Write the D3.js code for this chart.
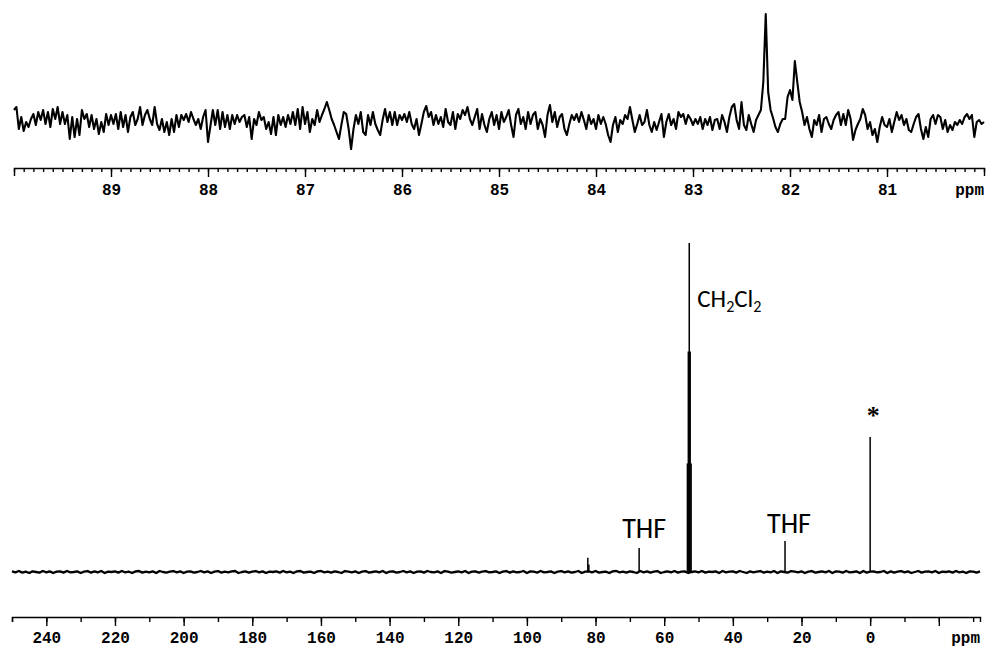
<!DOCTYPE html>
<html>
<head>
<meta charset="utf-8">
<script src="https://cdn.jsdelivr.net/npm/d3@7"></script>
<style>
  html, body { margin: 0; padding: 0; background: #fff; }
  svg { display: block; }
  .axis .tick text { font-family: "Liberation Mono", "Courier New", monospace; font-weight: bold; font-size: 16px; fill: #000; }
  .axis path, .axis line { stroke: #000; stroke-width: 1.4; }
  .unit { font-family: "Liberation Mono", "Courier New", monospace; font-weight: bold; font-size: 16px; fill: #000; }
  .lbl { font-family: Carlito, Calibri, Lato, sans-serif; fill: #000; }
</style>
</head>
<body>
<svg id="chart" width="989" height="650"></svg>
<script>
// ---- expanded region, 90 to 80 ppm (regular digital resolution) ----
const zoomStart = 90;
const zoomStep = 0.025;
const zoomIntensity = [
  12, 15, -7, 5, -9, 0, -5, 3, 8, -3,
  10, 2, 12, -2, 10, -5, 13, 3, 15, -2,
  10, -2, 7, -17, 5, -15, 3, -13, 12, 3,
  8, -5, 7, -7, 3, -12, 0, -10, 8, -3,
  7, -2, 8, -7, 10, -5, 7, -10, 5, 10,
  -3, 3, 15, -3, 7, 12, 3, -3, 15, -2,
  -8, 3, -10, 0, -13, 3, -10, 7, -5, 7,
  2, 8, 0, 10, 3, -3, 3, -7, 5, 12,
  -20, -4,
  12, -3, 12, -7, 10, -5, 7, -7, 7, -2,
  7, 0, 5, 7, -5, 5, -17, 3, -3, 10,
  2, 5, -7, 0, -12, 5, -13, 7, -3, 5,
  -5, 7, -2, 10, -3, 13, -7, 15, -2, 10,
  -10, 3, -3, 12, 0, 7, 13, 20, 12, 3,
  -3, -10, -17, -3, 10, 8, -7, -27, -7, 7,
  -2, 10, -10, -13, 7, -3, 10, -2, -8, -13,
  2, 13, 0, 10, -3, 10, -3, 7,
  2, 8, 0, 10, -2, -7, 3, -13, -2, 10,
  16, 5, 10, -3, 7, -2, 5, -5, 13, 0,
  -3, 10, -7, 8, 3, 12, 7, 15, 3, -3,
  5, 13, -7, 8, -3, -10, 3, 10, -3, 7,
  -7, 10, 0, 5, 12, -3, -15, 7, 13, -2,
  5, -7, 10, -2, 7, 10, -7, 3, -3, -15,
  7, 17, 0, 10, -5, 5, 8, -7, -13, -2,
  7, 2, 8, 0, 10, 2, -7, 7, -2, 3,
  -7, 7, -2, 5,
  -2, -13, -20, -3, 5, -10, 2, -2, 7, 3,
  15, 2, -10, -2, 7, -3, 0, 12, -3, -10,
  0, -8, 0, 8, -15, 0, 8, -3, 3, -7,
  10, 5, 8, -2, 7, 3, -3, 3, -2, 5,
  -7, 3, -3, 5, -8, 2, 3, -7, 7, 0,
  -10, 5, 15, 18, 2, -7, 20, -3, -8, 7,
  -2, -10, 2, 7,
  12, 40, 108, 30, 12, 4, -5, -10, -2, 3,
  3, 25, 32, 22, 61, 40, 20, 10,
  -3, 5, -7, -15, 2, -3, 7, -10, 3, 5,
  -2, -7, 2, 7, 10, -3, 8, -3, 12, 3,
  -18, -8, -2, 3, 13, 7, -7, 0, -13,
  -7, -20, -5, 5, -3, -5, 3, -10, 0, 10, 2,
  7, -3, 3, -8, -10, -2, 5, 8, -7,
  -17, -5, -15, 3, 7, -2, 7, 5, -7, 2, -10, -3, -8, 0, -3, 2, -2, 5, 8, 3, 7,
  -15, 0, 2, -2, 0
];
const zoomTicks = [89, 88, 87, 86, 85, 84, 83, 82, 81];

// ---- full spectrum, 250 to -32 ppm ----
const fullStart = 250;
const fullStep = 1;
const fullBaseline = [
  0.2, -0.1, 0.3, -0.2, 0.1, -0.3, 0.2, 0.0, -0.2, 0.3, -0.1, 0.2, -0.3, 0.1, 0.2, -0.2, 0.3, -0.1, 0.0, 0.2,
  -0.3, 0.1, 0.3, -0.2, 0.2, -0.1, 0.3, -0.3, 0.1, 0.0, 0.2, -0.2, 0.3, -0.1, 0.1, -0.3, 0.2, 0.3, -0.2, 0.1,
  -0.1, 0.2, -0.3, 0.3, 0.0, -0.2, 0.1, 0.3, -0.1, 0.2, -0.3, 0.1, 0.2, -0.2, 0.0, 0.3, -0.1, 0.2, -0.3, 0.1,
  0.3, -0.2, 0.1, -0.1, 0.2, 0.3, -0.3, 0.0, 0.2, -0.2, 0.1, 0.3, -0.1, 0.2, -0.3, 0.1, 0.0, 0.2, -0.2, 0.3,
  -0.1, 0.1, -0.3, 0.2, 0.3, -0.2, 0.0, 0.1, -0.3, 0.2, 0.3, -0.1, 0.1, -0.2, 0.2, 0.0, -0.3, 0.3, 0.1, -0.1,
  0.2, -0.3, 0.1, 0.3, -0.2, 0.0, 0.2, -0.1, 0.3, -0.3, 0.1, 0.2, -0.2, 0.0, 0.3, -0.1, 0.2, -0.3, 0.1, 0.2,
  -0.2, 0.3, 0.0, -0.1, 0.2, -0.3, 0.3, 0.1, -0.2, 0.0, 0.2, -0.1, 0.3, -0.3, 0.1, 0.2, -0.2, 0.1, 0.3, -0.1,
  0.0, 0.2, -0.3, 0.1, 0.3, -0.2, 0.2, -0.1, 0.0, 0.3, -0.3, 0.2, 0.1, -0.2, 0.3, -0.1, 0.0, 0.2, -0.3, 0.1,
  0.3, -0.1, 0.2, -0.2, 0.0, 0.3, -0.3, 0.1, 0.2, -0.1, 0.3, -0.2, 0.0, 0.1, -0.3, 0.2, 0.3, -0.1, 0.1, -0.2,
  0.2, 0.0, -0.3, 0.3, -0.1, 0.2, -0.2, 0.1, 0.3, -0.3, 0.0, 0.2, -0.1, 0.3, -0.2, 0.1, 0.2, -0.3, 0.0, 0.2,
  -0.1, 0.3, -0.2, 0.1, 0.0, 0.2, -0.3, 0.3, -0.1, 0.1, 0.2, -0.2, 0.3, 0.0, -0.3, 0.2, -0.1, 0.1, 0.3, -0.2,
  0.1, -0.1, 0.3, -0.3, 0.2, 0.0, -0.2, 0.3, 0.1, -0.1, 0.2, -0.3, 0.1, 0.3, -0.2, 0.0, 0.2, -0.1, 0.3, -0.3,
  0.2, 0.1, -0.2, 0.3, -0.1, 0.0, 0.2, -0.3, 0.3, -0.2, 0.1, 0.2, -0.1, 0.0, 0.3, -0.3, 0.2, -0.2, 0.1, 0.3,
  -0.1, 0.2, -0.3, 0.0, 0.3, -0.2, 0.1, 0.2, -0.1, 0.3, -0.3, 0.1, 0.0, 0.2, -0.2, 0.3, -0.1, 0.1, -0.3, 0.2,
  0.1, -0.2, 0.2
];
// resolved lines: product doublet, THF, CD2Cl2 quintet, THF, reference
const linePpm    = [82.25, 81.95, 67.3, 53.24, 52.97, 52.7, 52.43, 52.16, 24.8, 0];
const lineHeight = [4.3,   2.3,   7.3,  33,    67,    100,  67,    33,    9.4,  41];
const fullTicks = [240, 220, 200, 180, 160, 140, 120, 100, 80, 60, 40, 20, 0, -20];
const fullTickLabels = ["240", "220", "200", "180", "160", "140", "120", "100", "80", "60", "40", "20", "0", ""];

const svg = d3.select("#chart");

// ===== expanded panel =====
const xTop = d3.scaleLinear().domain([90, 80]).range([14, 984]);
const yTop = d3.scaleLinear().domain([0, 108]).range([122, 14]);

const topPts = zoomIntensity.map((v, i) => [zoomStart - i * zoomStep, v]);
svg.append("path")
  .datum(topPts)
  .attr("fill", "none")
  .attr("stroke", "#000")
  .attr("stroke-width", 2.1)
  .attr("stroke-linejoin", "round")
  .attr("d", d3.line().x(d => xTop(d[0])).y(d => yTop(d[1])));

const topAxisY = 168;
svg.append("g").attr("class", "axis")
  .attr("transform", `translate(0,${topAxisY})`)
  .call(d3.axisBottom(xTop).ticks(100).tickSize(4).tickSizeOuter(8).tickFormat(""));
const topMajor = svg.append("g").attr("class", "axis")
  .attr("transform", `translate(0,${topAxisY})`)
  .call(d3.axisBottom(xTop).tickValues(zoomTicks).tickSize(9).tickPadding(7).tickFormat(d3.format("d")));
topMajor.select(".domain").remove();
svg.append("text").attr("class", "unit")
  .attr("x", xTop(80)).attr("y", 195).attr("text-anchor", "end").text("ppm");

// ===== full spectrum panel =====
const xBot = d3.scaleLinear().domain([250, -32]).range([12, 980]);
const yBot = d3.scaleLinear().domain([0, 100]).range([572, 243]);

const basePts = fullBaseline.map((v, i) => [fullStart - i * fullStep, v]);
svg.append("path")
  .datum(basePts)
  .attr("fill", "none")
  .attr("stroke", "#000")
  .attr("stroke-width", 2.3)
  .attr("stroke-linejoin", "round")
  .attr("d", d3.line().x(d => xBot(d[0])).y(d => yBot(d[1])));

svg.append("g").selectAll("line")
  .data(linePpm.map((p, i) => ({ p, h: lineHeight[i] })))
  .join("line")
  .attr("x1", d => xBot(d.p)).attr("x2", d => xBot(d.p))
  .attr("y1", yBot(0)).attr("y2", d => yBot(d.h))
  .attr("stroke", "#000")
  .attr("stroke-width", 1.5);

const botAxisY = 617;
svg.append("g").attr("class", "axis")
  .attr("transform", `translate(0,${botAxisY})`)
  .call(d3.axisBottom(xBot).tickValues(d3.range(250, -32, -10)).tickSize(5).tickSizeOuter(5).tickFormat(""));
const botMajor = svg.append("g").attr("class", "axis")
  .attr("transform", `translate(0,${botAxisY})`)
  .call(d3.axisBottom(xBot).tickValues(fullTicks).tickSize(9).tickPadding(6)
    .tickFormat((d, i) => fullTickLabels[i]));
botMajor.select(".domain").remove();
svg.append("text").attr("class", "unit")
  .attr("x", xBot(-32)).attr("y", 643).attr("text-anchor", "end").text("ppm");

// ===== peak annotations =====
svg.append("text").attr("class", "lbl")
  .attr("x", xBot(67.3) + 5).attr("y", yBot(7.3) - 10)
  .attr("text-anchor", "middle").attr("font-size", 28).text("THF");
svg.append("text").attr("class", "lbl")
  .attr("x", xBot(24.8) + 4).attr("y", yBot(9.4) - 8)
  .attr("text-anchor", "middle").attr("font-size", 28).text("THF");

const dcm = svg.append("text").attr("class", "lbl")
  .attr("x", xBot(52.7) + 8).attr("y", yBot(100) + 64).attr("font-size", 25);
dcm.append("tspan").text("CH");
dcm.append("tspan").attr("font-size", 16).attr("dy", 5).text("2");
dcm.append("tspan").attr("dy", -5).text("Cl");
dcm.append("tspan").attr("font-size", 16).attr("dy", 5).text("2");

svg.append("text")
  .attr("x", xBot(0) + 3).attr("y", yBot(41) - 13)
  .attr("text-anchor", "middle")
  .attr("font-family", "'Liberation Serif', 'Times New Roman', serif")
  .attr("font-weight", "bold")
  .attr("font-size", 26).text("*");
</script>
</body>
</html>
